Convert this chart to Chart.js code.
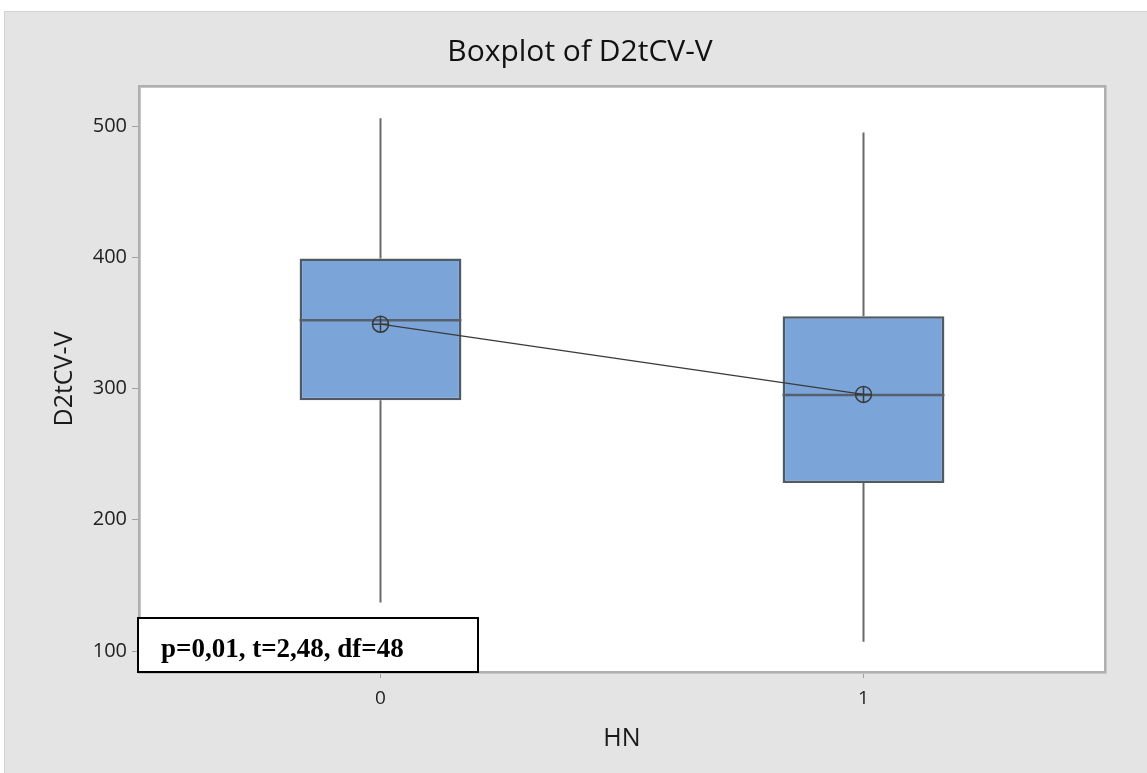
<!DOCTYPE html>
<html>
<head>
<meta charset="utf-8">
<script src="https://cdn.jsdelivr.net/npm/chart.js@4/dist/chart.umd.min.js"></script>
<style>
html,body{margin:0;padding:0;background:#fff;}
canvas{display:block;}
</style>
</head>
<body>
<canvas id="c" width="1147" height="773"></canvas>
<script>
// ---- data ----
const categories = ['0', '1'];
const q1Values = [291, 228];
const medianValues = [352, 295];
const q3Values = [399, 355];
const minValues = [137, 107];
const maxValues = [506, 495];
const meanValues = [349, 295.5];
const yTicks = [100, 200, 300, 400, 500];
const chartTitle = 'Boxplot of D2tCV-V';
const xTitle = 'HN';
const yTitle = 'D2tCV-V';
const annotationText = 'p=0,01, t=2,48, df=48';

const boxColor = '#7ba5d8';
const boxBorder = '#505a65';

const bgPlugin = {
  id: 'bg',
  beforeDraw(chart) {
    const {ctx, width, height, chartArea: a} = chart;
    ctx.save();
    ctx.fillStyle = '#ffffff';
    ctx.fillRect(0, 0, width, height);
    ctx.fillStyle = '#e4e4e4';
    ctx.fillRect(4, 11, width - 4, height - 11);
    ctx.strokeStyle = '#d2d2d2';
    ctx.lineWidth = 1;
    ctx.beginPath();
    ctx.moveTo(4.5, height);
    ctx.lineTo(4.5, 11.5);
    ctx.lineTo(width, 11.5);
    ctx.stroke();
    ctx.fillStyle = '#ffffff';
    ctx.fillRect(a.left, a.top, a.right - a.left, a.bottom - a.top);
    ctx.restore();
  },
  beforeDatasetsDraw(chart) {
    const {ctx, chartArea: a, scales} = chart;
    ctx.save();
    // frame
    ctx.strokeStyle = '#c6c6c6';
    ctx.lineWidth = 3;
    ctx.strokeRect(a.left + 0.5, a.top + 0.5, a.right - a.left, a.bottom - a.top);
    ctx.strokeStyle = '#a8a8a8';
    ctx.lineWidth = 1.5;
    ctx.strokeRect(a.left, a.top, a.right - a.left, a.bottom - a.top);
    // whiskers
    ctx.strokeStyle = '#6a6a6a';
    ctx.lineWidth = 2;
    categories.forEach((c, i) => {
      const x = scales.x.getPixelForValue(i);
      ctx.beginPath();
      ctx.moveTo(x, scales.y.getPixelForValue(q3Values[i]));
      ctx.lineTo(x, scales.y.getPixelForValue(maxValues[i]));
      ctx.moveTo(x, scales.y.getPixelForValue(q1Values[i]));
      ctx.lineTo(x, scales.y.getPixelForValue(minValues[i]));
      ctx.stroke();
    });
    ctx.restore();
  },
  afterDatasetDraw(chart, args) {
    if (args.index !== 0) return;
    const {ctx, scales} = chart;
    const meta = chart.getDatasetMeta(0);
    ctx.save();
    ctx.strokeStyle = '#56606c';
    ctx.lineWidth = 2.5;
    meta.data.forEach((bar, i) => {
      const y = scales.y.getPixelForValue(medianValues[i]);
      const half = bar.width / 2;
      ctx.beginPath();
      ctx.moveTo(bar.x - half, y);
      ctx.lineTo(bar.x + half, y);
      ctx.stroke();
    });
    ctx.restore();
  },
  afterDraw(chart) {
    const {ctx, chartArea: a} = chart;
    ctx.save();
    const left = a.left - 1, top = a.bottom - 54, w = 340, h = 54;
    ctx.fillStyle = '#ffffff';
    ctx.fillRect(left, top, w, h);
    ctx.strokeStyle = '#000000';
    ctx.lineWidth = 2;
    ctx.strokeRect(left, top, w, h);
    ctx.fillStyle = '#000000';
    ctx.font = 'bold 27px "Liberation Serif", "Times New Roman", serif';
    ctx.textBaseline = 'alphabetic';
    ctx.fillText(annotationText, left + 23, top + 39);
    ctx.restore();
  }
};

new Chart(document.getElementById('c'), {
  type: 'bar',
  data: {
    labels: categories,
    datasets: [
      {
        type: 'bar',
        data: q1Values.map((v, i) => [v, q3Values[i]]),
        backgroundColor: boxColor,
        borderColor: boxBorder,
        borderWidth: 2.5,
        borderSkipped: false,
        barPercentage: 0.335,
        categoryPercentage: 1,
        order: 2
      },
      {
        type: 'line',
        data: meanValues,
        borderColor: '#3a3a3a',
        borderWidth: 1.3,
        pointStyle: 'circle',
        pointRadius: 8,
        pointBorderWidth: 1.5,
        pointBorderColor: '#3a3a3a',
        pointBackgroundColor: 'rgba(0,0,0,0)',
        fill: false,
        order: 1
      },
      {
        type: 'line',
        data: meanValues,
        showLine: false,
        pointStyle: 'cross',
        pointRadius: 8,
        pointBorderWidth: 1.5,
        pointBorderColor: '#3a3a3a',
        order: 0
      }
    ]
  },
  options: {
    responsive: false,
    animation: false,
    layout: {padding: {top: 11, left: 55, right: 42, bottom: 0}},
    plugins: {
      legend: {display: false},
      tooltip: {enabled: false},
      title: {
        display: true,
        text: chartTitle,
        color: '#111111',
        font: {family: '"Open Sans", sans-serif', size: 30, weight: 'normal', lineHeight: 1.2},
        padding: {top: 23, bottom: 16}
      }
    },
    scales: {
      x: {
        type: 'category',
        offset: true,
        grid: {display: true, drawOnChartArea: false, drawTicks: true, tickLength: 6, color: '#a0a0a0', offset: false},
        border: {display: false},
        ticks: {color: '#222222', font: {family: '"Open Sans", sans-serif', size: 19}, padding: 9},
        title: {display: true, text: xTitle, color: '#1a1a1a', font: {family: '"Open Sans", sans-serif', size: 25, lineHeight: 1.2}, padding: {top: 0, bottom: 19}},
        afterFit(s) { s.height = 101; }
      },
      y: {
        type: 'linear',
        min: 84,
        max: 530.5,
        afterBuildTicks(s) { s.ticks = yTicks.map(v => ({value: v})); },
        grid: {display: true, drawOnChartArea: false, drawTicks: true, tickLength: 7, color: '#a0a0a0'},
        border: {display: false},
        ticks: {color: '#222222', font: {family: '"Open Sans", sans-serif', size: 20}, padding: 5},
        title: {display: true, text: yTitle, color: '#1a1a1a', font: {family: '"Open Sans", sans-serif', size: 25, lineHeight: 1}, padding: {top: -3, bottom: 0}},
        afterFit(s) { s.width = 84; }
      }
    }
  },
  plugins: [bgPlugin]
});
</script>
</body>
</html>
